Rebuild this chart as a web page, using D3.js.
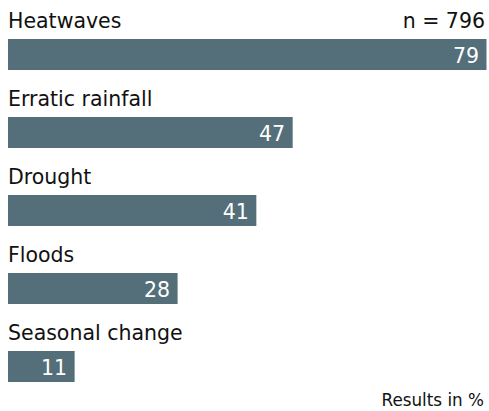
<!DOCTYPE html>
<html>
<head>
<meta charset="utf-8">
<script src="https://cdn.jsdelivr.net/npm/d3@7"></script>
<style>
  body { margin: 0; background: #fff; }
  text { font-family: "DejaVu Sans", sans-serif; }
</style>
</head>
<body>
<div id="graphicContainer"></div>
<script>
const categories = ['Heatwaves', 'Erratic rainfall', 'Drought', 'Floods', 'Seasonal change'];
const values = [79, 47, 41, 28, 11];
const sampleNote = 'n = 796';
const unitNote = 'Results in %';

const Width = 489, Height = 411;
const Margin = { t: 39, r: 2.5, b: 29, l: 8 };
const barColor = '#546e7a';

const svg = d3.select('#graphicContainer')
  .append('svg')
  .attr('width', Width)
  .attr('height', Height);

const x = d3.scaleLinear()
  .domain([0, d3.max(values)])
  .range([Margin.l, Width - Margin.r]);

// each row = label above + bar
const y = d3.scaleBand()
  .domain(categories)
  .range([Margin.t, Margin.t + 78 * categories.length])
  .paddingInner(0)
  .paddingOuter(0);
const barH = 31;

const rows = svg.selectAll('.row')
  .data(categories.map((c, i) => ({ cat: c, val: values[i] })))
  .enter()
  .append('g')
  .attr('class', 'row')
  .attr('transform', d => `translate(0, ${y(d.cat)})`);

rows.append('rect')
  .attr('x', x(0))
  .attr('y', 0)
  .attr('width', d => x(d.val) - x(0))
  .attr('height', barH)
  .attr('fill', barColor);

rows.append('text')
  .attr('x', x(0))
  .attr('y', -11.5)
  .attr('font-size', 20.5)
  .attr('fill', '#111')
  .text(d => d.cat);

rows.append('text')
  .attr('x', d => x(d.val) - 7.5)
  .attr('y', barH / 2 + 8.5)
  .attr('text-anchor', 'end')
  .attr('font-size', 20.5)
  .attr('fill', '#fff')
  .text(d => d.val);

svg.append('text')
  .attr('x', 485)
  .attr('y', 27.5)
  .attr('text-anchor', 'end')
  .attr('font-size', 20.5)
  .attr('fill', '#111')
  .text(sampleNote);

svg.append('text')
  .attr('x', 484)
  .attr('y', 406)
  .attr('text-anchor', 'end')
  .attr('font-size', 16.8)
  .attr('fill', '#111')
  .text(unitNote);
</script>
</body>
</html>
